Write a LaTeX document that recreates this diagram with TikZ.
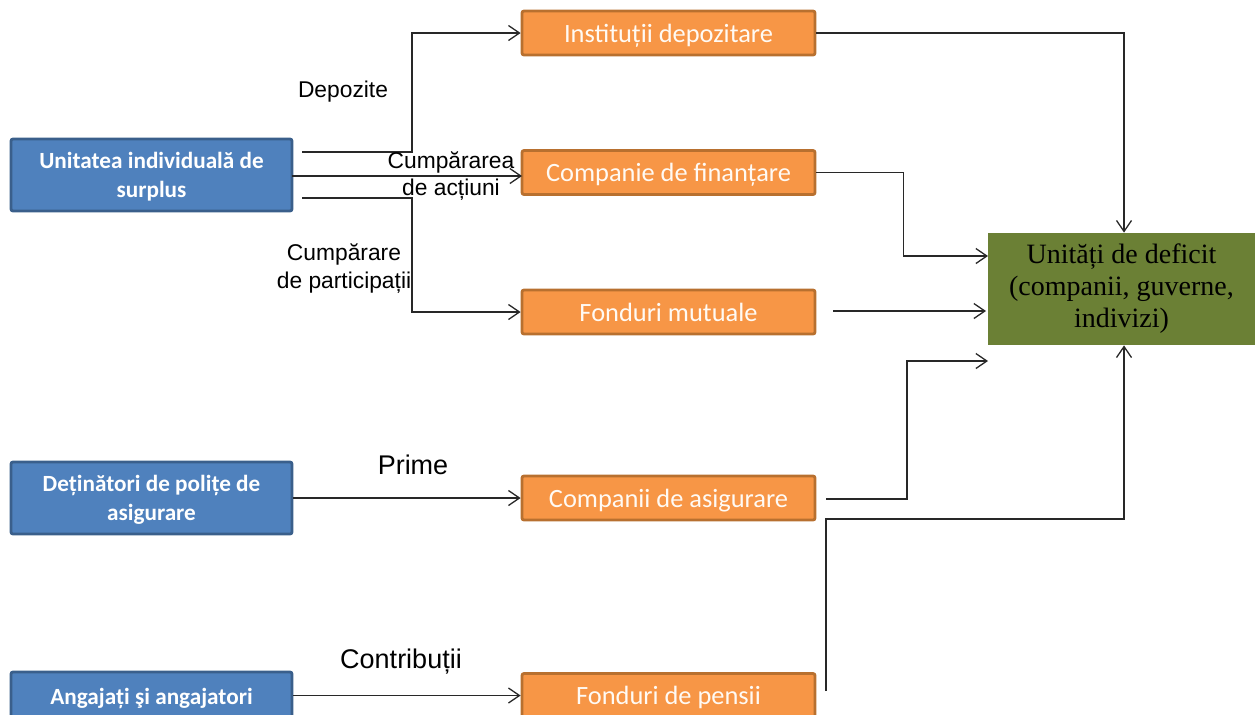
\documentclass[tikz,border=0pt]{standalone}
\usepackage{fontspec}
\setmainfont{Liberation Sans}
\newfontfamily\calibri{Carlito}
\newfontfamily\serifbox{Liberation Serif}
\usetikzlibrary{arrows.meta}

\definecolor{surplusblue}{RGB}{79,129,189}
\definecolor{surplusedge}{RGB}{58,95,139}
\definecolor{interorange}{RGB}{247,150,70}
\definecolor{interedge}{RGB}{184,112,47}
\definecolor{deficitgreen}{RGB}{107,128,53}
\definecolor{flowline}{RGB}{40,40,40}
\definecolor{boxtext}{RGB}{255,250,244}

\tikzset{
  sourcebox/.style={draw=surplusedge, fill=surplusblue, line width=1.4pt,
    rounded corners=1pt, minimum width=140.5pt, inner sep=0pt, align=center,
    text depth=0pt,
    text=white, font=\calibri\bfseries\fontsize{11.6}{14.5}\selectfont},
  interbox/.style={draw=interedge, fill=interorange, line width=1.4pt,
    rounded corners=1pt, minimum width=146.5pt, minimum height=22pt, inner sep=0pt,
    text height=12pt, text depth=3pt,
    text=boxtext, font=\calibri\fontsize{13.2}{15}\selectfont},
  sinkbox/.style={fill=deficitgreen, minimum width=133.5pt, minimum height=56pt,
    inner sep=0pt, align=center, text=black,
    font=\serifbox\fontsize{14}{16}\selectfont},
  flow/.style={draw=flowline, line width=0.65pt,
    -{Straight Barb[length=5.5pt,width=7.5pt,line width=0.65pt]}},
  flowlabel/.style={align=center, inner sep=0pt},
  biglabel/.style={inner sep=0pt, font=\fontsize{13.5}{15}\selectfont}
}

\begin{document}
\begin{tikzpicture}[x=0.5pt,y=-0.5pt]
\useasboundingbox (0,0) rectangle (1256,714);
\clip (0,0) rectangle (1256,714);

% surplus units
\node[sourcebox, minimum height=36pt] (unit) at (151.5,175) {Unitatea individuală de\\surplus};
\node[sourcebox, minimum height=36pt] (holders) at (151.5,498) {Deținători de polițe de\\asigurare};
\node[sourcebox, minimum height=24pt] (staff) at (151.5,696) {Angajați şi angajatori};

% intermediaries
\node[interbox] (deposit) at (668.5,33) {Instituții depozitare};
\node[interbox] (finance) at (668.5,172.5) {Companie de finanțare};
\node[interbox] (mutual) at (668.5,312) {Fonduri mutuale};
\node[interbox] (insure) at (668.5,498) {Companii de asigurare};
\node[interbox] (pension) at (668.5,695.5) {Fonduri de pensii};

% deficit units
\node[sinkbox] (deficit) at (1121.5,289) {Unități de deficit\\(companii, guverne,\\indivizi)};

% free ends of the connectors
\coordinate (depStart) at (302,152);
\coordinate (shareStart) at (292,176);
\coordinate (shareEnd) at (522,176);
\coordinate (partStart) at (302,198);
\coordinate (finIn) at (988,256);
\coordinate (mutStart) at (833,311);
\coordinate (mutEnd) at (986,311);
\coordinate (insStart) at (826,499);
\coordinate (insIn) at (988,361);
\coordinate (penStart) at (826,691);
\coordinate (penBend) at (1124,519);
\coordinate (depBend) at (1124,33);

% flows from surplus to intermediaries
\draw[flow] (depStart) -- ++(110,0) |- (deposit.west);
\draw[flow] (shareStart) -- (shareEnd);
\draw[flow] (partStart) -- ++(110,0) |- (mutual.west);
\draw[flow] (holders.east) -- (insure.west);
\draw[flow] (staff.east |- pension.west) -- (pension.west);

% flows from intermediaries to deficit units
\draw[flow] (deposit.east) -- (depBend) -- (depBend |- deficit.north);
\draw[flow] (finance.east) -- ++(87,0) |- (finIn);
\draw[flow] (mutStart) -- (mutEnd);
\draw[flow] (insStart) -- ++(81,0) |- (insIn);
\draw[flow] (penStart) |- (penBend) -- (penBend |- deficit.south);

% flow labels
\node[flowlabel, font=\fontsize{11.4}{13}\selectfont] (lblDep) at (343,92) {Depozite};
\node[flowlabel, font=\fontsize{11.4}{13.3}\selectfont] (lblShare) at (451,176) {Cumpărarea\\de acțiuni};
\node[flowlabel, font=\fontsize{11.4}{14}\selectfont] (lblPart) at (344,268) {Cumpărare\\de participații};
\node[biglabel] (lblPrime) at (413,465) {Prime};
\node[biglabel] (lblContrib) at (401,662) {Contribuții};
\end{tikzpicture}
\end{document}
